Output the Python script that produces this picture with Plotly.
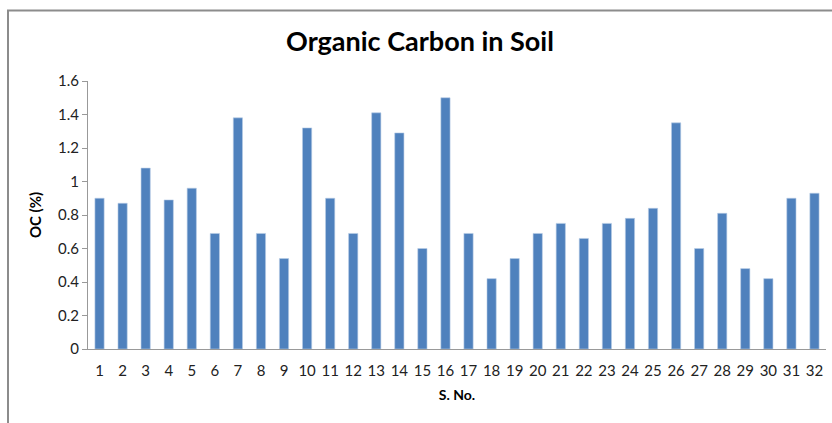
import plotly.graph_objects as go

sno = [str(i) for i in range(1, 33)]
oc = [0.90, 0.87, 1.08, 0.89, 0.96, 0.69, 1.38, 0.69, 0.54, 1.32, 0.90, 0.69,
      1.41, 1.29, 0.60, 1.50, 0.69, 0.42, 0.54, 0.69, 0.75, 0.66, 0.75, 0.78,
      0.84, 1.35, 0.60, 0.81, 0.48, 0.42, 0.90, 0.93]
y_ticks = [0, 0.2, 0.4, 0.6, 0.8, 1, 1.2, 1.4, 1.6]
y_tick_text = ["0", "0.2", "0.4", "0.6", "0.8", "1", "1.2", "1.4", "1.6"]

W, H = 832, 423
L, R, T, B = 88, 6, 81, 74
pw, ph = W - L - R, H - T - B

fig = go.Figure(go.Bar(
    x=sno, y=oc,
    marker=dict(color="#4F81BD", line=dict(color="#B9CDE5", width=0.6)),
))

font = "Lato, 'Open Sans', sans-serif"
fig.update_layout(
    width=W, height=H,
    margin=dict(l=L, r=R, t=T, b=B),
    paper_bgcolor="white", plot_bgcolor="white",
    bargap=0.6,
    showlegend=False,
    font=dict(family=font, size=15, color="#222"),
    title=dict(text="<b>Organic Carbon in Soil</b>", x=420 / W, xanchor="center",
               y=1 - 42 / H, yanchor="middle", font=dict(size=27, color="#000", family=font)),
    xaxis=dict(showline=True, linecolor="#999", linewidth=1, ticks="", showgrid=False,
               tickfont=dict(size=15), ticklabelstandoff=8,
               title=dict(text="<b>S. No.</b>", font=dict(size=14, color="#000"), standoff=12)),
    yaxis=dict(range=[0, 1.6], tickvals=y_ticks, ticktext=y_tick_text,
               showline=True, linecolor="#999", linewidth=1, ticks="outside", ticklen=5,
               tickcolor="#999", showgrid=False, zeroline=False, tickfont=dict(size=15),
               title=dict(text="<b>OC (%)</b>", font=dict(size=15, color="#000"), standoff=12)),
)

# outer chart frame (left and top edges visible)
x0 = (8 - L) / pw
y1 = 1 + (T - 10.5) / ph
fig.add_shape(type="rect", xref="paper", yref="paper", x0=x0, x1=1.2, y0=-0.6, y1=y1,
              line=dict(color="#8C8C8C", width=2), fillcolor="rgba(0,0,0,0)", layer="below")

fig.write_html("out.html", config={"displayModeBar": False},
               post_script="document.body.style.margin='0';document.body.style.overflow='hidden';")
